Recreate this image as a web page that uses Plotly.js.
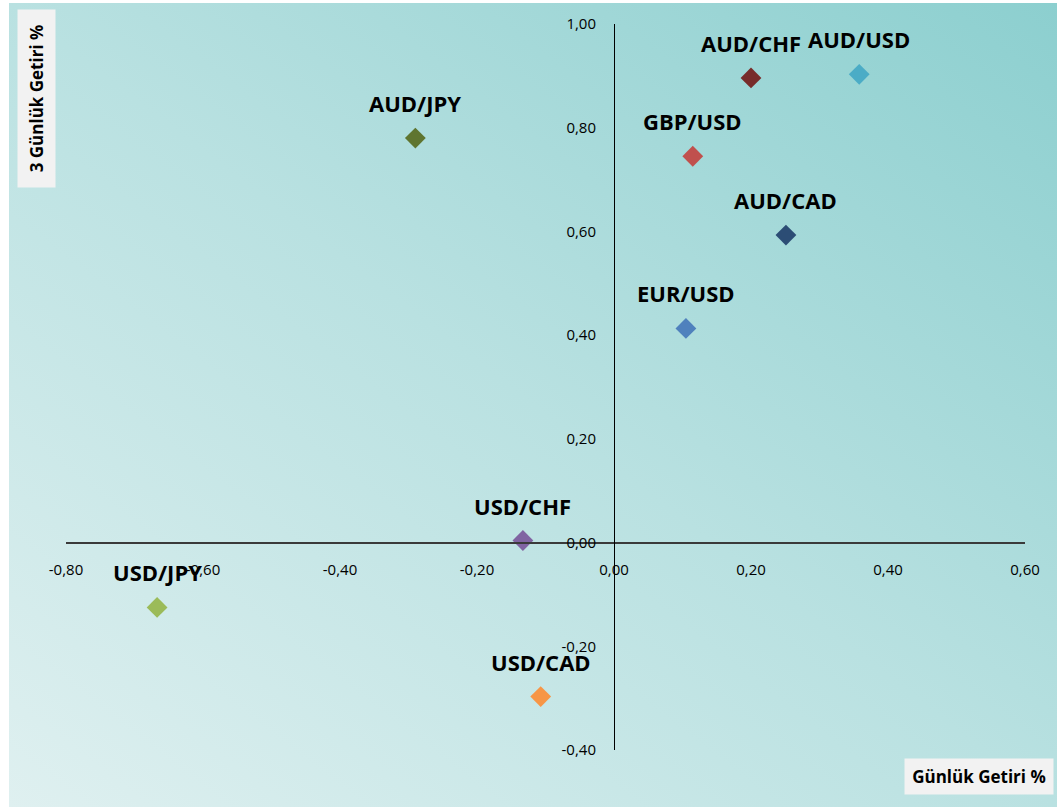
<!DOCTYPE html>
<html>
<head>
<meta charset="utf-8">
<script src="https://cdn.plot.ly/plotly-3.0.1.min.js"></script>
<style>
  html, body { margin: 0; padding: 0; background: #ffffff; }
  #bg { position: absolute; left: 9px; top: 3px; width: 1048px; height: 804px;
        background: linear-gradient(to top right, #dff0f0 0%, #b9e1e1 50%, #8ccfcf 100%); }
  #chart { position: absolute; left: 0; top: 0; width: 1057px; height: 807px; }
</style>
</head>
<body>
<div id="bg"></div>
<div id="chart"></div>
<script>
const pairs   = ["AUD/JPY", "AUD/CHF", "AUD/USD", "GBP/USD", "AUD/CAD", "EUR/USD", "USD/CHF", "USD/JPY", "USD/CAD"];
const daily   = [-0.29, 0.20, 0.358, 0.115, 0.251, 0.105, -0.133, -0.667, -0.107];
const threeDay = [0.78, 0.896, 0.903, 0.745, 0.593, 0.413, 0.004, -0.125, -0.297];
const colors  = ["#5f7530", "#772c2a", "#4bacc6", "#c0504d", "#2c4d75", "#4f81bd", "#8064a2", "#9bbb59", "#f79646"];
const xTicks  = [-0.8, -0.6, -0.4, -0.2, 0, 0.2, 0.4, 0.6];
const yTicks  = [-0.4, -0.2, 0, 0.2, 0.4, 0.6, 0.8, 1.0];
const xTitle  = "Günlük Getiri %";
const yTitle  = "3 Günlük Getiri %";

const xRange = [-0.8, 0.6], yRange = [-0.4, 1.0];
const font = "'Open Sans', 'DejaVu Sans', sans-serif";
const fmt = v => v.toFixed(2).replace(".", ",");

const traces = pairs.map((p, i) => ({
  type: "scatter", mode: "markers", name: p,
  x: [daily[i]], y: [threeDay[i]],
  marker: { symbol: "diamond", size: 16, color: colors[i], line: { width: 0 } },
  hoverinfo: "name+x+y"
}));

const labelAnns = pairs.map((p, i) => ({
  x: daily[i], y: threeDay[i], xref: "x", yref: "y",
  xanchor: "center", yanchor: "middle",
  text: "<b>" + p + "</b>", showarrow: false, yshift: 35,
  font: { family: font, size: 22, color: "#000000" }
}));

const titleAnns = [
  { xref: "paper", yref: "paper", xanchor: "center", yanchor: "middle",
    x: (979 - 66) / 959, y: (750 - 776.5) / 726,
    text: "<b>" + xTitle + "</b>", showarrow: false, bgcolor: "#f2f2f2",
    width: 146, height: 33, font: { family: font, size: 17, color: "#000" } },
  { xref: "paper", yref: "paper", xanchor: "center", yanchor: "middle",
    x: (36.5 - 66) / 959, y: (750 - 98.5) / 726,
    text: "<b>" + yTitle + "</b>", showarrow: false, bgcolor: "#f2f2f2", textangle: -90,
    width: 175, height: 35, font: { family: font, size: 17, color: "#000" } }
];

const layout = {
  width: 1057, height: 807,
  margin: { l: 66, r: 32, t: 24, b: 57, pad: 0 },
  paper_bgcolor: "rgba(0,0,0,0)", plot_bgcolor: "rgba(0,0,0,0)",
  showlegend: false,
  font: { family: font, size: 15, color: "#000" },
  xaxis: {
    range: xRange, tickvals: xTicks, ticktext: xTicks.map(fmt),
    showgrid: false, zeroline: false, showline: true, linecolor: "#3a3a3a", linewidth: 2,
    anchor: "free", position: (0 - yRange[0]) / (yRange[1] - yRange[0]),
    ticks: "", ticklabelstandoff: 13, tickfont: { family: font, size: 15, color: "#000" }
  },
  yaxis: {
    range: yRange, tickvals: yTicks, ticktext: yTicks.map(fmt),
    showgrid: false, zeroline: false, showline: true, linecolor: "#000000", linewidth: 1,
    anchor: "free", position: (0 - xRange[0]) / (xRange[1] - xRange[0]),
    ticks: "", ticklabelstandoff: 15, tickfont: { family: font, size: 15, color: "#000" }
  },
  annotations: labelAnns.concat(titleAnns)
};

Plotly.newPlot("chart", traces, layout, { displayModeBar: false, responsive: false });
</script>
</body>
</html>
